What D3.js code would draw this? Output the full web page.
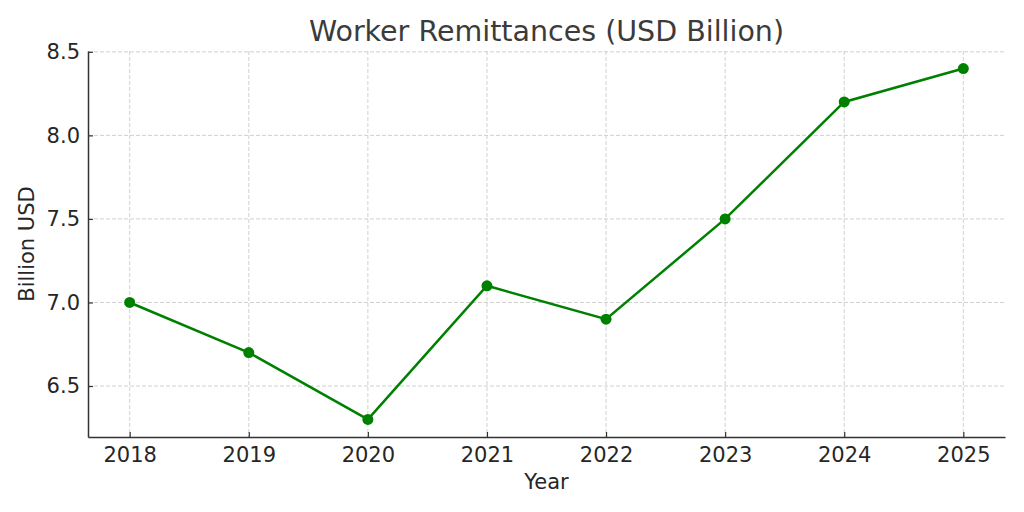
<!DOCTYPE html>
<html>
<head>
<meta charset="utf-8">
<script src="https://cdn.jsdelivr.net/npm/d3@7"></script>
<style>
  body { margin: 0; background: #fff; }
  svg text { font-family: "DejaVu Sans", sans-serif; }
  .grid line { stroke: #cccccc; stroke-width: 0.9; stroke-dasharray: 4 2; }
</style>
</head>
<body>
<svg id="chart" width="1024" height="512"></svg>
<script>
// data
const years = [2018, 2019, 2020, 2021, 2022, 2023, 2024, 2025]
const remittances = [7.0, 6.7, 6.3, 7.1, 6.9, 7.5, 8.2, 8.4]
const yTicks = [6.5, 7.0, 7.5, 8.0, 8.5]

const svg = d3.select("#chart")
const plotLeft = 88, plotRight = 1005, plotTop = 51, plotBottom = 437

// matplotlib-style 5% padding
const xPad = (d3.max(years) - d3.min(years)) * 0.05
const yPad = (d3.max(remittances) - d3.min(remittances)) * 0.05

let x = d3.scaleLinear()
    .domain([d3.min(years) - xPad, d3.max(years) + xPad])
    .range([plotLeft, plotRight])
let y = d3.scaleLinear()
    .domain([d3.min(remittances) - yPad, d3.max(remittances) + yPad])
    .range([plotBottom, plotTop])

// grid
let grid = svg.append("g").attr("class", "grid")
grid.selectAll("line.gx")
    .data(years)
    .enter()
    .append("line")
    .attr("x1", (d) => x(d)).attr("x2", (d) => x(d))
    .attr("y1", plotTop).attr("y2", plotBottom)
grid.selectAll("line.gy")
    .data(yTicks)
    .enter()
    .append("line")
    .attr("x1", plotLeft).attr("x2", plotRight)
    .attr("y1", (d) => y(d)).attr("y2", (d) => y(d))

// axes, ticks pointing inward
let xAxis = svg.append("g")
    .attr("transform", "translate(0," + plotBottom + ")")
    .call(d3.axisBottom(x).tickValues(years).tickFormat(d3.format("d")).tickSizeInner(-5).tickSizeOuter(0).tickPadding(10))
let yAxis = svg.append("g")
    .attr("transform", "translate(" + plotLeft + ",0)")
    .call(d3.axisLeft(y).tickValues(yTicks).tickFormat(d3.format(".1f")).tickSizeInner(-5).tickSizeOuter(0).tickPadding(8))

;[xAxis, yAxis].forEach((g) => {
    g.select(".domain").attr("stroke", "#333").attr("stroke-width", 1.5)
    g.selectAll(".tick line").attr("stroke", "#333").attr("stroke-width", 1.2)
    g.selectAll(".tick text").attr("fill", "#262626").style("font-size", "21px")
})

// line + markers
let line = d3.line()
    .x((d, i) => x(years[i]))
    .y((d) => y(d))

svg.append("path")
    .datum(remittances)
    .attr("d", line)
    .attr("fill", "none")
    .attr("stroke", "#008000")
    .attr("stroke-width", 2.5)

svg.selectAll("circle.pt")
    .data(remittances)
    .enter()
    .append("circle")
    .attr("class", "pt")
    .attr("cx", (d, i) => x(years[i]))
    .attr("cy", (d) => y(d))
    .attr("r", 5.5)
    .attr("fill", "#008000")

// labels
svg.append("text")
    .attr("x", (plotLeft + plotRight) / 2)
    .attr("y", 41)
    .attr("text-anchor", "middle")
    .attr("fill", "#3b3b3b")
    .style("font-size", "28.5px")
    .text("Worker Remittances (USD Billion)")

svg.append("text")
    .attr("x", (plotLeft + plotRight) / 2)
    .attr("y", 489)
    .attr("text-anchor", "middle")
    .attr("fill", "#262626")
    .style("font-size", "21px")
    .text("Year")

svg.append("text")
    .attr("transform", "translate(34," + (plotTop + plotBottom) / 2 + ") rotate(-90)")
    .attr("text-anchor", "middle")
    .attr("fill", "#262626")
    .style("font-size", "21px")
    .text("Billion USD")
</script>
</body>
</html>
